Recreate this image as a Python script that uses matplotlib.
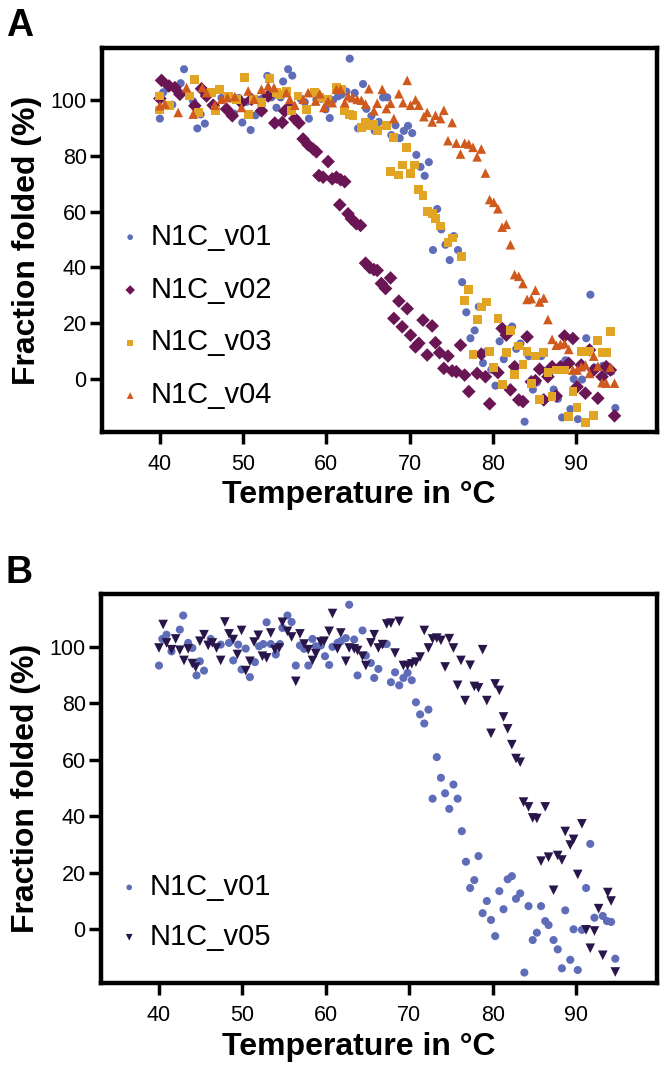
import numpy as np
import matplotlib
matplotlib.use("Agg")
import matplotlib.pyplot as plt

plt.rcParams['font.family'] = ['Liberation Sans', 'DejaVu Sans']

# N1C_v01 (shown in both panels)
t_v01 = [40.0, 40.4, 40.9, 41.5, 42.5, 42.9, 43.5, 44.0, 44.5, 44.9, 45.4, 46.2,
         47.4, 48.4, 48.9, 49.5, 49.9, 50.4, 50.9, 51.5, 52.0, 52.5, 52.9, 53.4,
         54.0, 54.5, 54.8, 55.4, 55.9, 56.4, 56.9, 57.4, 57.9, 58.4, 58.8, 59.4,
         59.9, 60.4, 60.8, 61.4, 61.8, 62.4, 62.8, 63.4, 63.8, 64.4, 64.8, 65.4,
         65.8, 66.3, 66.8, 67.3, 67.8, 68.3, 68.8, 69.3, 69.8, 70.3, 70.8, 71.3,
         71.8, 72.3, 72.8, 73.3, 73.8, 74.3, 74.8, 75.3, 75.8, 76.3, 76.8, 77.3,
         77.8, 78.3, 78.8, 79.3, 79.8, 80.3, 80.8, 81.3, 81.8, 82.3, 82.8, 83.3,
         83.8, 84.3, 84.8, 85.3, 85.8, 86.3, 86.7, 87.3, 87.8, 88.3, 88.7, 89.3,
         89.7, 90.2, 90.7, 91.2, 91.7, 92.2, 93.2, 93.7, 94.2, 94.7]
y_v01 = [93.3, 102.7, 104.2, 98.3, 106.0, 111.0, 101.3, 99.5, 89.8, 94.8, 91.5, 102.7,
         100.7, 101.3, 95.1, 100.7, 91.9, 99.3, 89.2, 94.5, 100.1, 100.9, 108.6, 100.9,
         97.2, 100.9, 106.6, 111.0, 108.7, 93.3, 100.4, 99.2, 93.3, 102.7, 100.1, 100.4,
         96.6, 93.5, 99.9, 101.3, 101.9, 103.0, 114.8, 102.5, 89.8, 105.7, 96.8, 94.2,
         88.9, 92.1, 100.9, 100.9, 87.4, 90.9, 86.3, 88.9, 90.7, 88.1, 80.3, 76.0,
         72.8, 77.7, 46.2, 60.9, 53.6, 48.1, 42.6, 51.2, 46.2, 34.7, 23.9, 14.6,
         17.4, 25.9, 5.7, 10.0, 3.3, -2.4, 13.5, 7.1, 17.7, 18.8, 10.8, 12.7,
         -15.3, 8.2, -3.8, -1.2, 8.2, 2.9, 1.5, -3.8, -7.1, -13.8, 6.7, -10.8,
         0.0, -14.4, -0.2, 14.6, 30.2, 4.1, 4.7, 2.9, 2.6, -10.4]

# N1C_v02
t_v02 = [40.0, 40.2, 41.1, 41.8, 42.4, 44.2, 45.0, 45.6, 46.4, 48.0, 48.7, 49.8,
         51.0, 52.2, 53.0, 53.8, 54.7, 55.0, 55.5, 56.2, 56.7, 57.2, 57.8, 58.4,
         58.8, 59.1, 59.6, 60.2, 60.7, 61.2, 61.6, 61.7, 62.2, 62.6, 63.0, 63.6,
         64.1, 64.7, 65.2, 65.7, 66.1, 66.6, 67.1, 67.7, 68.1, 68.7, 69.1, 69.7,
         70.1, 70.7, 71.1, 71.6, 72.1, 72.7, 73.1, 73.6, 74.1, 74.6, 75.1, 75.6,
         76.1, 76.6, 77.1, 78.1, 78.6, 79.1, 79.6, 80.6, 81.1, 81.6, 82.1, 82.6,
         83.1, 83.6, 84.1, 84.6, 85.1, 85.6, 86.1, 86.6, 87.1, 87.6, 88.1, 88.6,
         89.1, 89.6, 90.1, 90.6, 91.1, 91.6, 92.1, 92.6, 93.1, 93.6, 94.1, 94.6]
y_v02 = [100.5, 107.0, 105.0, 104.4, 102.0, 97.9, 104.0, 101.4, 98.1, 96.7, 94.3, 99.0,
         100.2, 96.1, 101.4, 91.7, 91.9, 96.0, 97.3, 93.3, 91.7, 86.0, 83.9, 82.4,
         81.4, 72.9, 72.3, 77.9, 71.7, 72.3, 62.4, 71.4, 70.7, 59.2, 57.4, 55.6,
         55.0, 41.5, 39.9, 39.2, 38.9, 34.2, 32.4, 36.2, 21.7, 27.9, 18.7, 25.2,
         15.7, 11.5, 12.8, 21.1, 8.6, 19.0, 13.0, 9.4, 3.8, 8.2, 2.9, 2.6,
         12.1, 1.4, -4.5, 2.0, 8.9, 0.8, -8.9, 2.3, 18.1, 15.7, -3.9, 4.4,
         -7.5, -8.1, 15.1, -1.0, -0.6, 3.5, -7.5, 0.8, 4.4, -6.1, 4.4, 15.4,
         5.6, 14.5, -2.8, 5.0, -5.1, 10.4, 3.2, -6.9, 0.8, 4.4, 3.2, -13.2]

# N1C_v03
t_v03 = [40.0, 40.0, 41.2, 43.6, 44.2, 44.6, 46.2, 46.7, 47.2, 48.2, 49.2, 50.2,
         50.6, 51.2, 52.2, 53.2, 54.0, 54.4, 55.2, 55.8, 56.6, 57.6, 58.6, 59.2,
         60.2, 61.2, 61.8, 62.2, 62.8, 63.2, 64.2, 64.7, 65.1, 65.7, 66.1, 67.2,
         67.7, 68.1, 68.7, 69.1, 69.6, 70.1, 70.6, 71.1, 71.6, 72.1, 72.7, 73.1,
         73.7, 74.6, 75.1, 76.2, 76.6, 77.1, 77.6, 78.1, 78.6, 79.2, 79.6, 80.1,
         80.6, 81.1, 81.6, 82.1, 82.6, 83.1, 83.6, 84.1, 84.6, 85.1, 85.6, 86.1,
         86.6, 87.1, 87.6, 88.1, 88.6, 89.1, 89.6, 90.1, 90.6, 91.1, 91.6, 92.1,
         92.6, 93.1, 93.6, 94.1]
y_v03 = [101.4, 96.4, 97.9, 101.4, 107.4, 95.5, 102.6, 96.1, 103.8, 101.4, 100.2, 108.0,
         94.9, 100.2, 99.0, 107.7, 102.6, 102.0, 103.2, 96.1, 101.4, 96.7, 102.6, 100.8,
         100.2, 104.4, 103.8, 96.1, 94.9, 94.3, 90.1, 91.9, 90.7, 91.3, 88.9, 90.7,
         74.3, 86.5, 73.1, 76.7, 83.0, 73.5, 76.7, 67.9, 65.7, 60.1, 59.2, 57.4,
         54.8, 49.0, 50.5, 43.9, 28.2, 32.0, 8.9, 21.3, 25.8, 27.6, 9.8, 4.0,
         21.7, -2.1, 9.4, 17.5, 1.7, 11.8, 5.3, 9.8, -1.5, 8.2, -7.3, 9.4,
         2.3, -6.3, 3.2, 3.2, 3.2, -13.5, -4.5, -10.1, 9.8, -15.6, 9.8, -13.2,
         13.9, 9.4, 9.4, 16.9]

# N1C_v04
t_v04 = [40.0, 40.6, 42.2, 43.2, 44.0, 45.1, 45.6, 46.6, 47.4, 48.1, 49.0, 49.8,
         50.6, 51.3, 52.2, 53.0, 53.7, 55.2, 55.6, 56.2, 57.2, 57.8, 58.7, 59.2,
         59.7, 60.2, 60.7, 61.2, 61.7, 62.2, 62.6, 63.1, 63.7, 64.2, 64.7, 65.1,
         65.7, 66.1, 66.7, 67.2, 67.7, 68.1, 68.7, 69.2, 69.7, 70.1, 70.7, 71.1,
         71.7, 72.1, 72.7, 73.1, 73.7, 74.1, 74.6, 75.1, 75.6, 76.1, 76.6, 77.1,
         77.6, 78.1, 78.6, 79.1, 79.6, 80.1, 80.6, 81.1, 81.6, 82.1, 82.6, 83.1,
         83.6, 84.1, 84.6, 85.1, 85.6, 86.1, 86.6, 87.1, 87.6, 88.1, 88.6, 89.1,
         89.6, 90.1, 90.6, 91.1, 91.6, 92.1, 92.6, 93.1, 93.6, 94.1, 94.6]
y_v04 = [97.9, 98.5, 95.5, 104.4, 94.9, 104.4, 102.6, 98.1, 100.2, 100.8, 101.2, 97.3,
         103.2, 100.2, 103.8, 105.0, 104.4, 102.6, 100.2, 98.1, 100.2, 102.6, 99.6, 102.2,
         97.3, 99.6, 99.0, 103.8, 103.8, 99.0, 101.4, 100.8, 100.2, 99.9, 98.5, 104.0,
         96.1, 98.8, 103.8, 96.9, 98.8, 93.3, 102.2, 99.0, 107.0, 98.1, 100.0, 98.1,
         94.0, 95.5, 92.1, 94.5, 93.3, 96.3, 85.4, 91.9, 84.5, 80.6, 84.5, 84.2,
         83.0, 79.6, 82.4, 73.8, 64.3, 63.3, 61.0, 54.4, 55.4, 48.1, 37.4, 36.8,
         34.2, 28.5, 28.8, 31.8, 27.6, 29.0, 21.3, 14.2, 12.1, 12.4, 12.7, 10.6,
         3.2, 3.2, 4.4, 5.0, 2.0, 8.2, 4.6, -1.3, -1.5, 4.2, -1.5]

# N1C_v05
t_v05 = [40.0, 40.5, 40.9, 41.5, 42.0, 42.5, 43.0, 43.5, 44.0, 44.4, 44.9, 45.4,
         45.9, 46.4, 46.9, 47.4, 47.9, 48.4, 48.9, 49.4, 49.9, 50.4, 50.9, 51.4,
         51.9, 52.4, 52.9, 53.4, 53.9, 54.4, 54.8, 55.4, 55.9, 56.4, 56.9, 57.4,
         57.9, 58.4, 58.8, 59.4, 59.8, 60.4, 60.8, 61.4, 61.8, 62.4, 62.8, 63.4,
         63.8, 64.4, 64.8, 65.4, 65.8, 66.3, 66.8, 67.3, 67.8, 68.3, 68.8, 69.3,
         69.8, 70.3, 70.8, 71.3, 71.8, 72.3, 72.8, 73.3, 73.8, 74.3, 74.8, 75.3,
         75.8, 76.2, 76.7, 77.3, 77.8, 78.3, 78.8, 79.3, 79.8, 80.3, 80.8, 81.3,
         81.8, 82.3, 82.8, 83.3, 83.7, 84.3, 84.8, 85.3, 85.8, 86.3, 86.7, 87.3,
         87.8, 88.3, 88.7, 89.3, 89.7, 90.2, 90.7, 91.2, 91.7, 92.2, 92.7, 93.2,
         93.8, 94.2, 94.7]
y_v05 = [99.5, 107.8, 101.3, 98.9, 102.7, 98.7, 95.1, 99.2, 94.0, 92.7, 101.9, 104.2,
         100.4, 101.3, 99.5, 95.1, 108.7, 104.5, 102.5, 97.2, 105.7, 91.5, 94.8, 101.6,
         104.0, 96.6, 96.0, 104.8, 98.9, 99.5, 108.6, 105.4, 103.4, 87.7, 104.5, 100.9,
         98.9, 95.1, 97.5, 101.6, 101.9, 105.4, 111.7, 99.2, 104.8, 94.8, 99.5, 99.2,
         98.6, 96.6, 93.3, 101.3, 104.2, 99.5, 100.7, 108.0, 108.3, 97.7, 108.9, 93.3,
         93.3, 93.9, 94.5, 96.3, 105.7, 99.5, 102.7, 103.0, 102.2, 92.8, 102.8, 99.5,
         86.3, 95.1, 80.9, 93.4, 85.9, 85.4, 98.9, 80.9, 69.3, 86.8, 84.5, 75.1,
         70.9, 65.3, 60.4, 59.1, 45.0, 43.3, 39.4, 39.2, 24.1, 43.3, 25.5, 13.8,
         26.1, 24.5, 34.6, 29.8, 31.8, 19.4, 37.3, -0.2, -6.7, -0.6, 7.3, -9.2,
         13.0, 10.0, -15.1]

c01 = '#5F6DB8'
c02 = '#6B1654'
c03 = '#E2A523'
c04 = '#D05A1E'
c05 = '#28164A'

W, H = 666, 1074
fig = plt.figure(figsize=(W / 100, H / 100), dpi=100)


def style_axes(ax):
    ax.set_xlim(33.05, 99.7)
    ax.set_ylim(-19, 118.6)
    ax.set_xticks([40, 50, 60, 70, 80, 90])
    ax.set_yticks([0, 20, 40, 60, 80, 100])
    for s in ax.spines.values():
        s.set_linewidth(3.2)
    ax.tick_params(direction='out', length=8.5, width=2.5, labelsize=15.5, pad=2.5)
    ax.tick_params(axis='x', pad=7)
    ax.set_xlabel('Temperature in °C', fontsize=23, fontweight='bold')
    ax.set_ylabel('Fraction folded (%)', fontsize=23, fontweight='bold', labelpad=6)
    ax.xaxis.set_label_coords(0.463, -0.125)


leg_kw = dict(loc='center left', frameon=False, fontsize=21, handlelength=0.6,
              handletextpad=0.39, borderpad=0, borderaxespad=0, markerscale=0.7)

axA = fig.add_axes([102 / W, 1 - 432 / H, 555 / W, 384 / H])
axA.scatter(t_v01, y_v01, s=34, marker='o', color=c01, edgecolors='none', label='N1C_v01')
axA.scatter(t_v02, y_v02, s=48, marker='D', color=c02, edgecolors='none', label='N1C_v02')
axA.scatter(t_v03, y_v03, s=40, marker='s', color=c03, edgecolors='none', label='N1C_v03')
axA.scatter(t_v04, y_v04, s=48, marker='^', color=c04, edgecolors='none', label='N1C_v04')
style_axes(axA)
axA.legend(bbox_to_anchor=(0.035, 0.302), labelspacing=0.85, **leg_kw)

axB = fig.add_axes([101 / W, 1 - 983 / H, 556 / W, 389 / H])
axB.scatter(t_v01, y_v01, s=34, marker='o', color=c01, edgecolors='none', label='N1C_v01')
axB.scatter(t_v05, y_v05, s=48, marker='v', color=c05, edgecolors='none', label='N1C_v05')
style_axes(axB)
axB.legend(bbox_to_anchor=(0.035, 0.1825), labelspacing=0.75, **leg_kw)

fig.text(6 / W, 1 - 36 / H, 'A', fontsize=27, fontweight='bold')
fig.text(6 / W, 1 - 583 / H, 'B', fontsize=27, fontweight='bold')

fig.savefig('out.png', dpi=100)
